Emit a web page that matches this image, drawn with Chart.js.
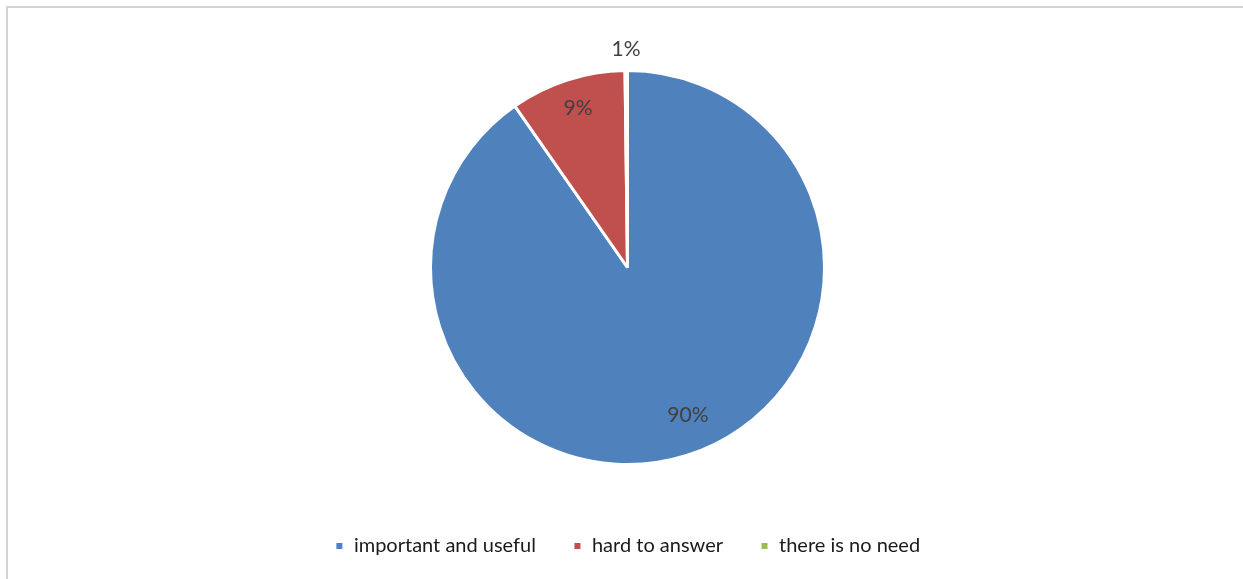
<!DOCTYPE html>
<html>
<head>
<meta charset="utf-8">
<script src="https://cdn.jsdelivr.net/npm/chart.js@4.4.1/dist/chart.umd.min.js"></script>
<style>
  html, body { margin: 0; padding: 0; background: #fff; }
  #frame {
    position: absolute; left: 6px; top: 6px; width: 1250px; height: 600px;
    border-top: 2px solid #d4d4d4; border-left: 2px solid #d4d4d4;
  }
  #wrap { position: absolute; left: 0; top: 0; width: 1243px; height: 579px; }
</style>
</head>
<body>
<div id="frame"></div>
<div id="wrap"><canvas id="chart"></canvas></div>
<script>
const categories = ['important and useful', 'hard to answer', 'there is no need'];
const shares = [90.3, 9.5, 0.2];
const shareLabels = ['90%', '9%', '1%'];
const colors = ['#4f81bd', '#c0504d', '#9bbb59'];

// data labels: inside for big slices, outside for the tiny one
const labelNudge = [[12, -6], [0, -5], [0, 0]];
const pieLabels = {
  id: 'pieLabels',
  afterDatasetsDraw(chart) {
    const ctx = chart.ctx;
    const meta = chart.getDatasetMeta(0);
    ctx.save();
    ctx.font = '21px Lato';
    ctx.fillStyle = '#404040';
    ctx.textAlign = 'center';
    ctx.textBaseline = 'middle';
    meta.data.forEach((arc, i) => {
      const mid = (arc.startAngle + arc.endAngle) / 2;
      const r = i === 2 ? arc.outerRadius + 21 : arc.outerRadius * 0.82;
      const x = arc.x + Math.cos(mid) * r + labelNudge[i][0];
      const y = arc.y + Math.sin(mid) * r + labelNudge[i][1];
      ctx.fillText(shareLabels[i], x, y);
    });
    ctx.restore();
  }
};

new Chart(document.getElementById('chart'), {
  type: 'pie',
  data: {
    labels: categories,
    datasets: [{
      data: shares,
      backgroundColor: colors,
      borderColor: '#ffffff',
      borderWidth: 3,
      radius: 197
    }]
  },
  options: {
    responsive: true,
    maintainAspectRatio: false,
    animation: false,
    layout: { padding: { top: 36, bottom: 13, left: 12, right: 0 } },
    plugins: {
      tooltip: { enabled: false },
      legend: {
        position: 'bottom',
        labels: {
          color: '#1a1a1a',
          font: { family: 'Lato', size: 20 },
          boxWidth: 9,
          boxHeight: 9,
          padding: 37
        }
      }
    }
  },
  plugins: [pieLabels]
});
</script>
</body>
</html>
